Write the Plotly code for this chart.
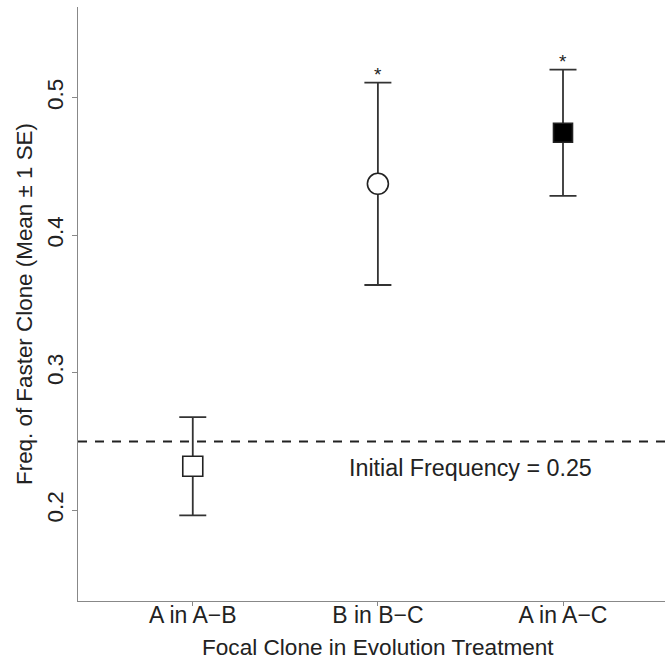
import plotly.graph_objects as go

categories = ["A in A\u2212B", "B in B\u2212C", "A in A\u2212C"]
means = [0.232, 0.4374, 0.4745]
se = [0.0357, 0.0736, 0.0459]
significant = [False, True, True]
initial_freq = 0.25
y_ticks = [0.2, 0.3, 0.4, 0.5]
x_pos = [1, 2, 3]

FONT = "Liberation Sans, Arial, Helvetica, sans-serif"
DARK = "#222222"

fig = go.Figure()

fig.add_trace(go.Scatter(
    x=[0.38, 3.6], y=[initial_freq, initial_freq], mode="lines",
    line=dict(color=DARK, width=2.2, dash="9px,8px"),
    hoverinfo="skip", showlegend=False, cliponaxis=True))

fig.add_trace(go.Scatter(
    x=x_pos, y=means, mode="markers",
    marker=dict(symbol=["square", "circle", "square"],
                size=[20, 21, 19], opacity=1,
                color=["white", "white", "black"],
                line=dict(color=DARK, width=1.6)),
    error_y=dict(type="data", array=se, visible=True,
                 color="#333333", thickness=1.8, width=13.5),
    showlegend=False))

annotations = []
for x, m, s, sig in zip(x_pos, means, se, significant):
    if sig:
        annotations.append(dict(x=x, y=m + s, xref="x", yref="y", text="*",
                                showarrow=False, yanchor="bottom", yshift=-4,
                                font=dict(family=FONT, size=19, color=DARK)))

annotations.append(dict(x=2.5, y=0.231, xref="x", yref="y",
                        text="Initial Frequency = 0.25", showarrow=False,
                        xanchor="center", yanchor="middle",
                        font=dict(family=FONT, size=23.3, color=DARK)))
annotations.append(dict(x=(378 - 78) / 587, y=-0.0791, xref="paper", yref="paper",
                        text="Focal Clone in Evolution Treatment", showarrow=False,
                        xanchor="center", yanchor="middle",
                        font=dict(family=FONT, size=22.6, color=DARK)))
annotations.append(dict(x=(24 - 78) / 587, y=0.5, xref="paper", yref="paper",
                        text="Freq. of Faster Clone (Mean \u00b1 1 SE)", showarrow=False,
                        textangle=-90, xanchor="center", yanchor="middle",
                        font=dict(family=FONT, size=22.4, color=DARK)))

fig.update_layout(
    width=665, height=662,
    margin=dict(l=78, r=0, t=7, b=61),
    paper_bgcolor="white", plot_bgcolor="white",
    font=dict(family=FONT, size=22, color=DARK),
    annotations=annotations,
    xaxis=dict(range=[0.38, 3.551], tickvals=x_pos, ticktext=categories,
               showgrid=False, zeroline=False, showline=True,
               linecolor="#888888", linewidth=1.3,
               ticks="outside", ticklen=4, tickcolor="#888888",
               ticklabelstandoff=-11,
               tickfont=dict(family=FONT, size=23, color=DARK)),
    yaxis=dict(range=[0.134, 0.566], tickvals=y_ticks,
               ticktext=[f"{v:.1f}" for v in y_ticks],
               tickangle=-90,
               showgrid=False, zeroline=False, showline=True,
               linecolor="#888888", linewidth=1.3,
               ticks="outside", ticklen=5, tickcolor="#888888",
               tickfont=dict(family=FONT, size=22.5, color=DARK)),
)

fig.write_html("out.html", config={"displayModeBar": False},
               post_script="document.body.style.margin='0';document.body.style.padding='0';")
